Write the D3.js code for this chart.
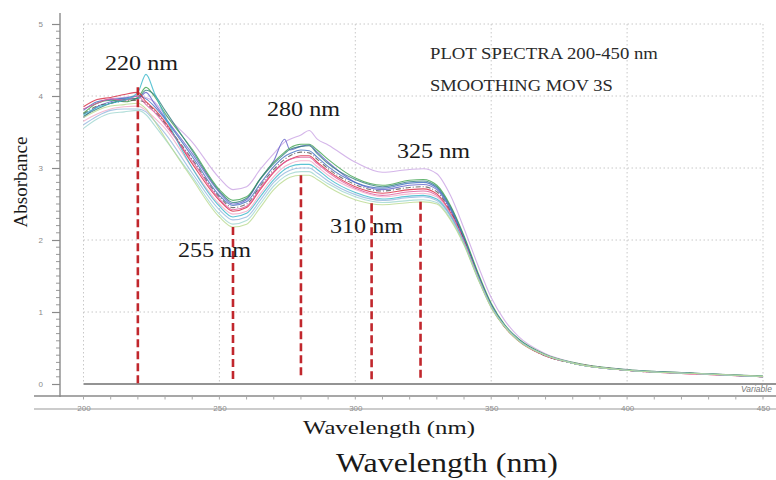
<!DOCTYPE html>
<html>
<head>
<meta charset="utf-8">
<script src="https://cdn.jsdelivr.net/npm/d3@7"></script>
<style>
  html, body { margin: 0; padding: 0; background: #fff; }
  svg { display: block; }
</style>
</head>
<body>
<svg id="chart" width="776" height="480"></svg>
<script>
// ---------------- DATA ----------------
const wavelengths = [200,205,210,215,220,223,226,230,240,250,255,260,265,270,274,276,280,283,286,290,300,310,320,325,330,335,340,345,350,355,360,370,380,400,425,450];

const lavender  = [3.82,3.90,3.96,3.98,4.00,3.98,3.92,3.74,3.36,2.86,2.70,2.74,2.98,3.20,3.36,3.40,3.46,3.52,3.40,3.32,3.08,2.94,2.98,2.99,2.92,2.62,2.16,1.66,1.20,0.88,0.66,0.42,0.30,0.20,0.15,0.11];
const violet    = [3.70,3.85,3.92,3.96,3.96,4.05,3.90,3.70,3.20,2.66,2.50,2.56,2.85,3.10,3.40,3.25,3.30,3.32,3.22,3.08,2.80,2.70,2.76,2.77,2.70,2.42,2.00,1.52,1.10,0.80,0.62,0.40,0.29,0.19,0.145,0.105];
const green     = [3.76,3.90,3.94,3.92,3.98,4.12,4.00,3.76,3.26,2.70,2.55,2.60,2.85,3.08,3.22,3.28,3.33,3.33,3.25,3.12,2.86,2.76,2.83,2.84,2.76,2.48,2.06,1.56,1.12,0.82,0.63,0.41,0.30,0.20,0.15,0.11];
const teal      = [3.72,3.82,3.90,3.95,3.97,4.08,4.02,3.80,3.24,2.68,2.52,2.58,2.84,3.06,3.20,3.26,3.30,3.31,3.20,3.06,2.84,2.74,2.81,2.82,2.74,2.46,2.04,1.54,1.10,0.81,0.62,0.40,0.29,0.195,0.15,0.105];
const blue      = [3.80,3.92,3.95,3.97,4.00,3.96,3.86,3.68,3.16,2.62,2.48,2.53,2.78,3.02,3.16,3.20,3.25,3.24,3.15,3.02,2.80,2.72,2.79,2.80,2.72,2.44,2.02,1.52,1.09,0.80,0.61,0.40,0.29,0.19,0.145,0.10];
const darkGray  = [3.75,3.86,3.90,3.93,3.94,3.90,3.80,3.62,3.12,2.60,2.45,2.50,2.75,2.98,3.12,3.17,3.22,3.21,3.12,2.99,2.77,2.68,2.73,2.74,2.67,2.40,2.00,1.50,1.08,0.79,0.61,0.39,0.29,0.19,0.145,0.10];
const red       = [3.85,3.95,3.98,4.02,4.05,3.92,3.82,3.64,3.06,2.55,2.40,2.45,2.70,2.94,3.08,3.12,3.17,3.17,3.08,2.96,2.74,2.65,2.70,2.71,2.64,2.38,1.98,1.49,1.07,0.79,0.60,0.39,0.29,0.19,0.14,0.10];
const magenta   = [3.82,3.90,3.96,3.94,4.00,3.88,3.78,3.60,3.10,2.57,2.42,2.47,2.72,2.95,3.08,3.12,3.15,3.15,3.06,2.94,2.72,2.62,2.67,2.68,2.62,2.37,1.98,1.50,1.08,0.80,0.61,0.40,0.29,0.19,0.14,0.10];
const lightPink = [3.65,3.75,3.82,3.85,3.86,3.80,3.70,3.55,3.00,2.50,2.36,2.40,2.64,2.88,3.02,3.06,3.10,3.10,3.02,2.90,2.70,2.60,2.64,2.65,2.60,2.36,1.97,1.50,1.08,0.80,0.61,0.40,0.29,0.19,0.14,0.10];
const cyan      = [3.74,3.84,3.90,3.94,4.05,4.30,4.05,3.72,3.00,2.47,2.32,2.37,2.60,2.84,2.98,3.02,3.05,3.05,2.98,2.86,2.66,2.57,2.61,2.62,2.57,2.34,1.96,1.49,1.08,0.80,0.61,0.40,0.29,0.19,0.145,0.10];
const lightBlue = [3.60,3.72,3.80,3.82,3.82,3.78,3.66,3.48,2.93,2.42,2.28,2.32,2.55,2.80,2.93,2.97,3.00,3.00,2.93,2.82,2.63,2.55,2.59,2.60,2.55,2.33,1.95,1.48,1.07,0.80,0.61,0.40,0.29,0.19,0.145,0.10];
const paleTeal  = [3.55,3.68,3.76,3.78,3.80,3.74,3.60,3.40,2.88,2.36,2.22,2.27,2.50,2.75,2.88,2.92,2.95,2.95,2.88,2.78,2.60,2.52,2.55,2.56,2.52,2.30,1.94,1.48,1.07,0.80,0.61,0.40,0.29,0.19,0.145,0.105];
const paleOlive = [3.70,3.80,3.86,3.88,3.90,3.82,3.66,3.42,2.85,2.32,2.18,2.22,2.45,2.70,2.83,2.87,2.90,2.90,2.84,2.74,2.56,2.49,2.52,2.53,2.50,2.28,1.93,1.47,1.06,0.79,0.60,0.40,0.29,0.19,0.145,0.105];

const seriesValues = [lavender, violet, green, teal, blue, darkGray, red, magenta, lightPink, cyan, lightBlue, paleTeal, paleOlive];
const seriesColors = ["#c9a3e3","#5f5fc8","#3fa34d","#2e7d7a","#3d6bbf","#555555","#d7263d","#e0589a","#f2a7c6","#35b5c9","#93b7df","#9fd6cf","#b9d98f"];
const seriesDash   = [null,null,null,null,null,"5,2,1,2",null,null,null,null,null,null,null];

const peakLabels = ["220 nm","255 nm","280 nm","310 nm","325 nm"];
const peakLineAt = [220, 255, 280, 306, 324];
const peakTop    = [4.12, 2.18, 2.90, 2.51, 2.53];
const peakBottom = [0, 0.05, 0.10, 0.04, 0.04];

const xTicks = [200, 250, 300, 350, 400, 450];
const yTicks = [0, 1, 2, 3, 4, 5];
const notes = ["PLOT SPECTRA 200-450 nm", "SMOOTHING MOV 3S"];

// ---------------- DRAW ----------------
const svg = d3.select("#chart");
const serif = "'Liberation Serif','Times New Roman',serif";
const sans = "'Liberation Sans',Arial,sans-serif";

const x = d3.scaleLinear().domain([200, 450]).range([83.5, 763]);
const y = d3.scaleLinear().domain([0, 5]).range([384, 24]);

// dotted grid
const grid = svg.append("g").attr("stroke", "#c8c8c8").attr("stroke-width", 1).attr("stroke-dasharray", "1.5,2.5");
grid.selectAll("line.v").data(xTicks).join("line")
  .attr("x1", d => x(d)).attr("x2", d => x(d)).attr("y1", y(5)).attr("y2", y(0));
grid.selectAll("line.h").data(yTicks.filter(d => d > 0)).join("line")
  .attr("x1", x(200)).attr("x2", x(450)).attr("y1", d => y(d)).attr("y2", d => y(d));

// baseline
svg.append("line").attr("x1", x(200)).attr("x2", 776).attr("y1", y(0)).attr("y2", y(0))
  .attr("stroke", "#6f6f6f").attr("stroke-width", 1.4);

// left y axis
const yAxisG = svg.append("g").attr("transform", "translate(60,0)");
const yAxis = d3.axisLeft(y).tickValues(yTicks).tickSize(8).tickPadding(9).tickFormat(d3.format("d"));
yAxisG.call(yAxis);
yAxisG.select(".domain").remove();
yAxisG.selectAll(".tick line").attr("stroke", "#8a8a8a").attr("stroke-width", 1.2);
yAxisG.selectAll(".tick text").attr("fill", "#8a8a8a").attr("font-size", 8).attr("font-family", sans);
const minorY = d3.range(0, 5.001, 0.1).filter(v => Math.abs(v - Math.round(v)) > 0.01);
yAxisG.selectAll("line.minor").data(minorY).join("line").attr("class", "minor")
  .attr("x1", -4).attr("x2", 0).attr("y1", d => y(d)).attr("y2", d => y(d))
  .attr("stroke", "#999").attr("stroke-width", 1);
yAxisG.append("line").attr("x1", 0).attr("x2", 0).attr("y1", 13).attr("y2", 397)
  .attr("stroke", "#8a8a8a").attr("stroke-width", 1.4);

// bottom x axis
const xAxisG = svg.append("g").attr("transform", "translate(0,396)");
const xAxis = d3.axisBottom(x).tickValues(xTicks).tickSize(0).tickPadding(9).tickFormat(d3.format("d"));
xAxisG.call(xAxis);
xAxisG.select(".domain").remove();
xAxisG.selectAll(".tick text").attr("fill", "#8a8a8a").attr("font-size", 8).attr("font-family", sans);
xAxisG.append("line").attr("x1", 34).attr("x2", 776).attr("y1", 0).attr("y2", 0)
  .attr("stroke", "#8a8a8a").attr("stroke-width", 1.4);
xAxisG.selectAll("line.minor").data(d3.range(200, 451, 10)).join("line").attr("class", "minor")
  .attr("x1", d => x(d)).attr("x2", d => x(d)).attr("y1", 1).attr("y2", 3.5)
  .attr("stroke", "#aaa").attr("stroke-width", 1);
svg.append("line").attr("x1", 34).attr("x2", 776).attr("y1", 409).attr("y2", 409)
  .attr("stroke", "#9a9a9a").attr("stroke-width", 1.2);
svg.append("text").attr("x", 741).attr("y", 392).text("Variable")
  .attr("font-family", sans).attr("font-style", "italic").attr("font-size", 8.5).attr("fill", "#777");

// spectra
const line = d3.line().x((d, i) => x(wavelengths[i])).y(d => y(d)).curve(d3.curveMonotoneX);
svg.append("g").selectAll("path").data(seriesValues).join("path")
  .attr("d", d => line(d))
  .attr("fill", "none")
  .attr("stroke", (d, i) => seriesColors[i])
  .attr("stroke-width", 1.1)
  .attr("stroke-opacity", 0.8)
  .attr("stroke-dasharray", (d, i) => seriesDash[i]);

// red dashed markers
svg.append("g").selectAll("line").data(peakLineAt).join("line")
  .attr("x1", d => x(d)).attr("x2", d => x(d))
  .attr("y1", (d, i) => y(peakTop[i])).attr("y2", (d, i) => y(peakBottom[i]))
  .attr("stroke", "#c1272d").attr("stroke-width", 2.6).attr("stroke-dasharray", "8,4");

// helper for horizontally stretched text
function stretchText(txt, px, py, size, width, color) {
  const t = svg.append("text").text(txt)
    .attr("font-family", serif).attr("font-size", size).attr("fill", color);
  const w = t.node().getComputedTextLength();
  const sx = width / w;
  t.attr("transform", `translate(${px},${py}) scale(${sx},1)`);
  return t;
}

// peak annotations (left edge, baseline)
const labelPos = [[105, 70], [178, 257], [267, 116], [330, 233], [397, 158]];
peakLabels.forEach((lab, i) => stretchText(lab, labelPos[i][0], labelPos[i][1], 20, 73, "#1a1a1a"));

// notes
stretchText(notes[0], 430, 59, 16, 228, "#2a2a2a");
stretchText(notes[1], 430, 91, 16, 183, "#2a2a2a");

// axis titles
svg.append("text").text("Absorbance")
  .attr("font-family", serif).attr("font-size", 19).attr("fill", "#1a1a1a")
  .attr("text-anchor", "middle")
  .attr("transform", "translate(27,182) rotate(-90)");
stretchText("Wavelength (nm)", 303, 434, 19, 172, "#1a1a1a");
stretchText("Wavelength (nm)", 336, 472, 28, 222, "#1a1a1a");
</script>
</body>
</html>
